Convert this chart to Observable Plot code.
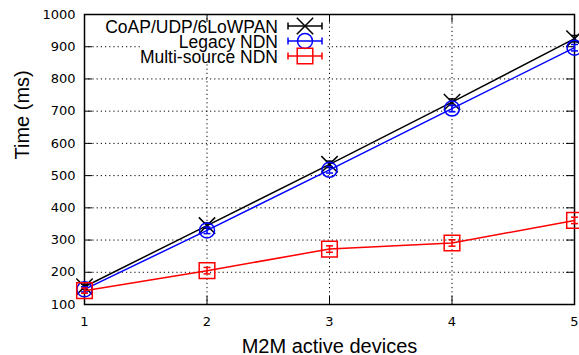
<!DOCTYPE html>
<html><head><meta charset="utf-8">
<script src="https://cdn.jsdelivr.net/npm/d3@7"></script>
<script src="https://cdn.jsdelivr.net/npm/@observablehq/plot@0.6"></script>
<style>
html,body{margin:0;padding:0;background:#fff;}
svg{display:block;}
</style></head><body><div id="chart"></div>
<script>
// ---- data ----
const devices = [1, 2, 3, 4, 5];
const coap = [155, 345, 535, 728, 925];
const coapErr = [8, 8, 10, 10, 10];
const legacy = [147, 330, 518, 708, 897];
const legacyErr = [8, 10, 10, 10, 10];
const multi = [143, 205, 272, 291, 361];
const multiErr = [8, 10, 10, 10, 10];
const seriesNames = ["CoAP/UDP/6LoWPAN", "Legacy NDN", "Multi-source NDN"];
const seriesColors = ["#000000", "#0000ff", "#ff0000"];
const seriesSymbols = ["times", "circle", "square"];
const xTicks = [1, 2, 3, 4, 5];
const yTicks = [100, 200, 300, 400, 500, 600, 700, 800, 900, 1000];
const xLabel = "M2M active devices";
const yLabel = "Time (ms)";

const seriesVals = [coap, legacy, multi];
const seriesErrs = [coapErr, legacyErr, multiErr];
const series = seriesNames.map((name, i) => ({
  name, color: seriesColors[i], symbol: seriesSymbols[i],
  rows: devices.map((x, j) => ({x, y: seriesVals[i][j], err: seriesErrs[i][j]}))
}));

const W = 579, H = 355, mL = 84, mR = 5, mT = 14, mB = 51;
const innerW = W - mL - mR, innerH = H - mT - mB;
const tickLen = 8;
const sansFont = "'Liberation Sans', Arial, sans-serif";

const capSymbol = {draw(ctx) { ctx.moveTo(-3.5, 0); ctx.lineTo(3.5, 0); }};
const symR = {times: 7.5, circle: 7.5, square: 8.8};

const innerX = xTicks.slice(1, -1);
const innerY = yTicks.slice(1, -1);

function legendBox() {
  const g = d3.create("svg:g");
  g.append("rect").attr("x", 142).attr("y", 20).attr("width", 183).attr("height", 43).attr("fill", "#fff");
  return g.node();
}

function legendContent() {
  const g = d3.create("svg:g");
  const textRight = 278, x0 = 288, x1 = 322, xc = 305;
  series.forEach((s, i) => {
    const base = 33 + i * 15;
    const ly = base - 7;
    g.append("text").attr("x", textRight).attr("y", base)
      .attr("text-anchor", "end").attr("font-family", sansFont)
      .attr("font-size", 17.5).attr("fill", "#000").text(s.name);
    g.append("line").attr("x1", x0).attr("x2", x1).attr("y1", ly).attr("y2", ly)
      .attr("stroke", s.color).attr("stroke-width", 1.5);
    [x0, x1].forEach(cx => g.append("line").attr("x1", cx).attr("x2", cx)
      .attr("y1", ly - 3.5).attr("y2", ly + 3.5).attr("stroke", s.color).attr("stroke-width", 1.5));
    const sym = s.symbol === "times" ? d3.symbolTimes : s.symbol === "circle" ? d3.symbolCircle : d3.symbolSquare;
    const r = symR[s.symbol];
    g.append("path").attr("transform", `translate(${xc},${ly})`)
      .attr("d", d3.symbol(sym, Math.PI * r * r)())
      .attr("fill", "none").attr("stroke", s.color).attr("stroke-width", 1.5);
  });
  return g.node();
}

const marks = [
  Plot.ruleX(innerX, {x: d => d, stroke: "#000", strokeWidth: 1, strokeDasharray: "1.2,3"}),
  Plot.ruleY(innerY, {y: d => d, stroke: "#000", strokeWidth: 1, strokeDasharray: "1.2,3"}),
  legendBox,
  Plot.tickY(innerY, {y: d => d, insetRight: innerW - tickLen, stroke: "#000", strokeWidth: 1}),
  Plot.tickY(innerY, {y: d => d, insetLeft: innerW - tickLen, stroke: "#000", strokeWidth: 1}),
  Plot.tickX(innerX, {x: d => d, insetTop: innerH - tickLen, stroke: "#000", strokeWidth: 1}),
  Plot.tickX(innerX, {x: d => d, insetBottom: innerH - tickLen, stroke: "#000", strokeWidth: 1}),
  Plot.frame({stroke: "#000", strokeWidth: 1.5}),
];
series.forEach(s => {
  marks.push(Plot.line(s.rows, {x: "x", y: "y", stroke: s.color, strokeWidth: 1.5}));
  marks.push(Plot.ruleX(s.rows, {x: "x", y1: d => d.y - d.err, y2: d => d.y + d.err, stroke: s.color, strokeWidth: 1.5}));
  marks.push(Plot.dot(s.rows, {x: "x", y: d => d.y - d.err, symbol: capSymbol, r: 3, fill: "none", stroke: s.color, strokeWidth: 1.5}));
  marks.push(Plot.dot(s.rows, {x: "x", y: d => d.y + d.err, symbol: capSymbol, r: 3, fill: "none", stroke: s.color, strokeWidth: 1.5}));
  marks.push(Plot.dot(s.rows, {x: "x", y: "y", symbol: s.symbol, r: symR[s.symbol], fill: "none", stroke: s.color, strokeWidth: 1.5}));
});
marks.push(
  Plot.axisX({ticks: xTicks, tickSize: 0, tickPadding: 12, fontSize: 13, label: null, tickFormat: d => String(d)}),
  Plot.axisY({ticks: yTicks, tickSize: 0, tickPadding: 9, fontSize: 13, label: null, tickFormat: d => String(d)}),
  Plot.text([yLabel], {text: d => d, frameAnchor: "left", dx: -62, rotate: -90, fontSize: 20, fontFamily: sansFont, fill: "#000"}),
  Plot.text([xLabel], {text: d => d, frameAnchor: "bottom", dy: 48, lineAnchor: "bottom", fontSize: 20, fontFamily: sansFont, fill: "#000"}),
  legendContent
);

const chart = Plot.plot({
  width: W, height: H,
  marginLeft: mL, marginRight: mR, marginTop: mT, marginBottom: mB,
  x: {type: "linear", domain: [1, 5]},
  y: {type: "linear", domain: [100, 1000]},
  style: {fontFamily: "'DejaVu Sans', sans-serif", fontSize: "13px", color: "#000", background: "#fff", overflow: "visible"},
  marks
});
document.getElementById("chart").appendChild(chart);
</script>
</body></html>
